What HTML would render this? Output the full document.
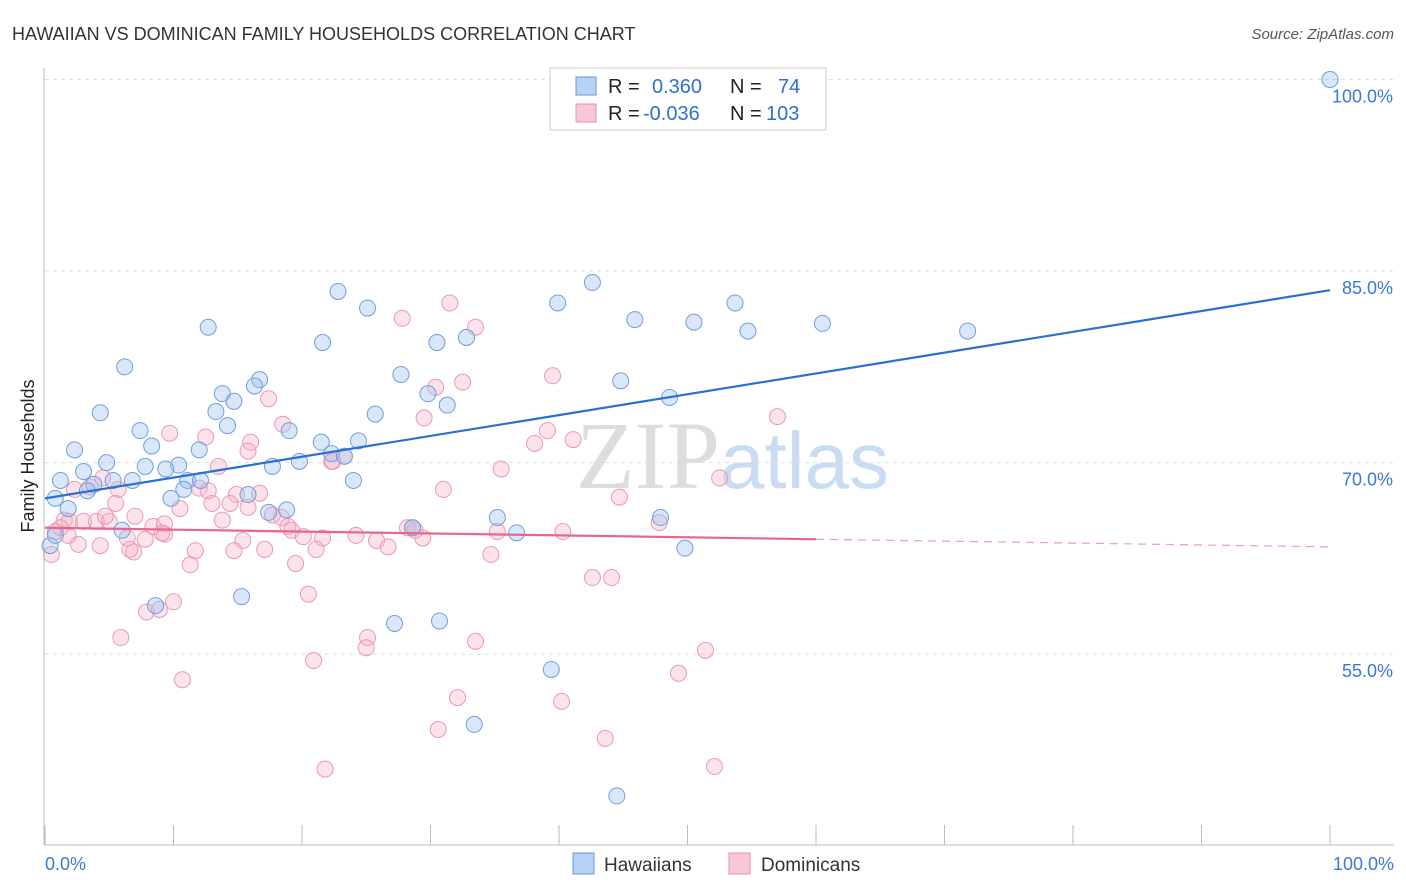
<!DOCTYPE html>
<html><head><meta charset="utf-8">
<style>
body{margin:0;background:#fff;font-family:"Liberation Sans",sans-serif;}
#wrap{position:relative;width:1406px;height:892px;overflow:hidden;}
</style></head>
<body>
<div id="wrap">
<svg id="svg" width="1406" height="892" xmlns="http://www.w3.org/2000/svg">
<text x="12" y="40" font-size="18" fill="#333" font-family="Liberation Sans">HAWAIIAN VS DOMINICAN FAMILY HOUSEHOLDS CORRELATION CHART</text>
<text x="1394" y="39" font-size="15" fill="#555" font-style="italic" text-anchor="end">Source: ZipAtlas.com</text>
<text x="720" y="488" font-size="96" fill="#ddd" font-family="Liberation Serif" text-anchor="end">ZIP</text>
<text x="720" y="488" font-size="80" fill="#c9dcf3" text-anchor="start">atlas</text>
<text transform="translate(34,456) rotate(-90)" font-size="18" fill="#222" text-anchor="middle">Family Households</text>
<g id="grid"></g><g id="axes"></g><g id="pts"></g><g id="lines"></g>
<g>
<rect x="550" y="68" width="276" height="62" fill="#fff" stroke="#ccc"/>
<rect x="576" y="77" width="20" height="18" fill="#b8d2f5" stroke="#6a9ad8"/>
<rect x="576" y="104" width="20" height="18" fill="#f9c6d6" stroke="#e890aa"/>
<text x="608" y="93" font-size="20" fill="#222">R = </text>
<text x="652" y="93" font-size="20" fill="#2f6fd1">0.360</text>
<text x="730" y="93" font-size="20" fill="#222">N = </text>
<text x="778" y="93" font-size="20" fill="#2f6fd1">74</text>
<text x="608" y="120" font-size="20" fill="#222">R = </text>
<text x="643" y="120" font-size="20" fill="#2f6fd1">-0.036</text>
<text x="730" y="120" font-size="20" fill="#222">N = </text>
<text x="766" y="120" font-size="20" fill="#2f6fd1">103</text>
</g>
<g>
<rect x="573" y="853" width="21" height="21" fill="#b8d2f5" stroke="#6a9ad8"/>
<text x="604" y="871" font-size="19" fill="#333">Hawaiians</text>
<rect x="729" y="853" width="21" height="21" fill="#f9c6d6" stroke="#e890aa"/>
<text x="761" y="871" font-size="19" fill="#333">Dominicans</text>
</g>
</svg>
</div>
<script>
const yTicks=[100,85,70,55];
const yTickLabels=["100.0%","85.0%","70.0%","55.0%"];
const xTickLabels=["0.0%","100.0%"];
const hawX=[100,42.6,22.8,39.9,25.1,53.7,12.7,45.9,50.5,54.7,60.5,71.8,21.6,30.5,32.8,6.2,27.7,16.7,16.3,44.8,13.8,14.7,29.8,31.3,48.6,4.3,13.3,25.7,14.2,19.0,7.4,8.3,2.3,21.5,24.4,12.0,4.8,3.0,7.8,10.4,9.4,17.7,19.8,22.3,23.3,1.2,3.8,5.3,6.8,11.1,12.1,24.0,3.3,0.8,9.8,10.8,15.8,1.8,17.4,18.8,35.2,47.9,6.0,28.6,36.7,49.8,0.4,0.8,15.3,8.6,27.2,30.7,39.4,33.4,44.5];
const hawY=[100,84.1,83.4,82.5,82.1,82.5,80.6,81.2,81.0,80.3,80.9,80.3,79.4,79.4,79.8,77.5,76.9,76.5,76.0,76.4,75.4,74.8,75.4,74.5,75.1,73.9,74.0,73.8,72.9,72.5,72.5,71.3,71.0,71.6,71.7,71.0,70.0,69.3,69.7,69.8,69.5,69.7,70.1,70.7,70.5,68.6,68.3,68.6,68.6,68.6,68.6,68.6,67.8,67.2,67.2,67.9,67.5,66.4,66.1,66.3,65.7,65.7,64.7,64.9,64.5,63.3,63.5,64.3,59.5,58.8,57.4,57.6,53.8,49.5,43.9];
const domX=[31.5,33.5,27.8,32.5,30.4,39.5,17.4,18.5,29.5,57.0,9.7,12.5,16.0,15.8,22.3,39.1,41.1,38.1,35.5,13.5,23.3,2.3,4.5,3.5,5.7,12.0,12.7,14.9,16.7,31.0,44.7,52.5,5.5,10.5,13.0,14.4,1.5,1.9,4.0,5.0,7.0,8.4,9.3,13.8,18.4,18.9,17.7,28.6,28.2,35.2,40.3,47.8,0.8,2.6,4.3,6.4,7.8,9.3,15.4,19.2,21.6,24.2,25.8,26.7,29.4,6.6,6.9,11.7,14.7,17.1,21.1,34.7,0.5,11.3,19.5,42.6,44.1,20.5,10.0,7.9,8.9,5.9,25.1,25.0,33.5,51.4,20.9,49.3,10.7,32.1,40.2,30.6,43.6,21.8,52.1,1.2,4.7,20.1,22.4,9.1,15.8,28.8,1.8,3.0];
const domY=[82.5,80.6,81.3,76.3,75.9,76.8,75.0,73.0,73.5,73.6,72.3,72.0,71.6,70.9,70.1,72.5,71.8,71.5,69.5,69.7,70.5,67.9,68.8,68.1,67.9,68.0,67.8,67.5,67.6,67.9,67.3,68.8,66.8,66.4,66.8,66.8,65.5,65.4,65.4,65.4,65.8,65.0,65.2,65.5,65.7,65.0,65.9,64.9,64.9,64.6,64.6,65.3,64.6,63.6,63.5,64.1,64.0,64.4,63.9,64.7,64.1,64.3,63.9,63.4,64.1,63.2,63.0,63.1,63.1,63.2,63.2,62.8,62.8,62.0,62.1,61.0,61.0,59.7,59.1,58.3,58.5,56.3,56.3,55.5,56.0,55.3,54.5,53.5,53.0,51.6,51.3,49.1,48.4,46.0,46.2,64.9,65.8,64.2,70.1,64.5,66.5,64.7,64.3,65.4];
const hawTrend=[67.2,83.5];      // y at x=0 and x=100
const domTrend=[64.9,63.4];      // y at x=0 and x=100
const domSolidEnd=60;            // x where solid segment ends

const NS="http://www.w3.org/2000/svg";
const X=v=>45+v*12.85;
const Y=v=>79.5+(100-v)*12.77;
function mk(tag,attrs,parent){const e=document.createElementNS(NS,tag);for(const k in attrs)e.setAttribute(k,attrs[k]);document.getElementById(parent).appendChild(e);return e;}

yTicks.forEach((t,i)=>{
  const l=mk('line',{x1:45,x2:1394,y1:Y(t),y2:Y(t),stroke:'#ddd','stroke-dasharray':'4,4'},'grid');
  
  
  const tx=mk('text',{x:1393,y:Y(t)+23,'font-size':18,fill:'#3a78d6','text-anchor':'end'},'grid');
  tx.textContent=yTickLabels[i];
  
  
});
const ya=mk('line',{x1:44,x2:44,y1:68,y2:845,stroke:'#bbb'},'axes');


const xa=mk('line',{x1:44,x2:1394,y1:845,y2:845,stroke:'#bbb'},'axes');


for(let i=0;i<=10;i++){
  const t=mk('line',{x1:X(i*10),x2:X(i*10),y1:825,y2:845,stroke:'#bbb'},'axes');
  
  
}
[[0,'start',45],[100,'end',1394]].forEach((d,i)=>{
  const t=mk('text',{x:d[2],y:870,'font-size':18,fill:'#3a78d6','text-anchor':d[1]},'axes');
  t.textContent=xTickLabels[i];
  
  
});
domX.forEach((v,i)=>{
  const c=mk('circle',{cx:X(v),cy:Y(domY[i]),r:8,fill:'rgba(245,175,198,0.35)',stroke:'#e99ab3','stroke-width':1},'pts');
  
  
});
hawX.forEach((v,i)=>{
  const c=mk('circle',{cx:X(v),cy:Y(hawY[i]),r:8,fill:'rgba(160,195,240,0.4)',stroke:'#6f9fdc','stroke-width':1},'pts');
  
  
});
const bl=mk('line',{x1:X(0),y1:Y(hawTrend[0]),x2:X(100),y2:Y(hawTrend[1]),stroke:'#2a6fd6','stroke-width':2.2},'lines');


const dAt=x=>domTrend[0]+(domTrend[1]-domTrend[0])*x/100;
const pl=mk('line',{x1:X(0),y1:Y(dAt(0)),x2:X(domSolidEnd),y2:Y(dAt(domSolidEnd)),stroke:'#e8668e','stroke-width':2.2},'lines');


const pd=mk('line',{x1:X(domSolidEnd),y1:Y(dAt(domSolidEnd)),x2:X(100),y2:Y(dAt(100)),stroke:'#e8a0b6','stroke-width':1.2,'stroke-dasharray':'8,6'},'lines');


</script>
</body></html>
